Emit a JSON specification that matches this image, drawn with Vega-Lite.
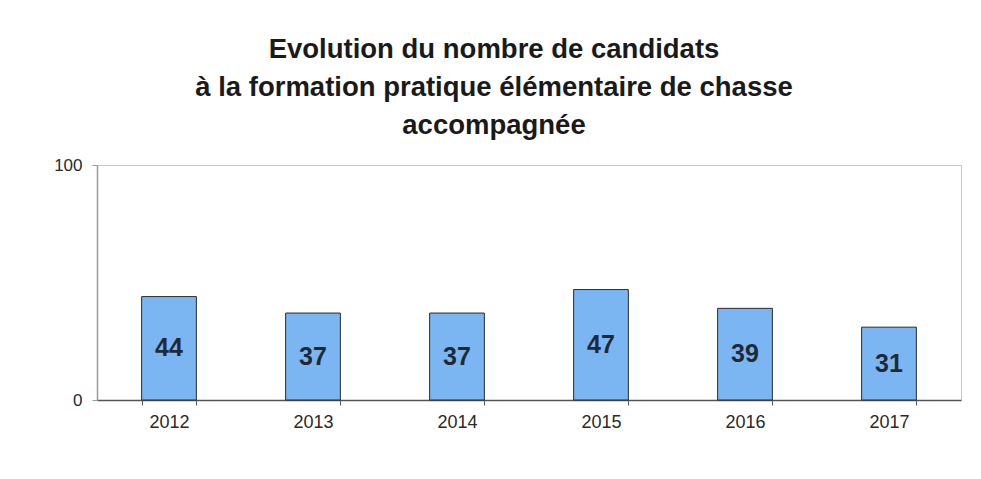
{
  "$schema": "https://vega.github.io/schema/vega-lite/v6.json",
  "autosize": "none",
  "width": 864,
  "height": 235,
  "padding": {"left": 97, "top": 165, "right": 20, "bottom": 79},
  "background": "white",
  "config": {
    "font": "Liberation Sans",
    "view": {"stroke": "#c8c8c8", "strokeWidth": 1}
  },
  "title": {
    "text": ["Evolution du nombre de candidats", "à la formation pratique élémentaire de chasse", "accompagnée"],
    "font": "Liberation Sans",
    "fontSize": 27.5,
    "fontWeight": "bold",
    "color": "#1a1a1a",
    "lineHeight": 38,
    "anchor": "middle",
    "dx": -35,
    "offset": 17
  },
  "data": {
    "values": [
      {"year": "2012", "count": 44},
      {"year": "2013", "count": 37},
      {"year": "2014", "count": 37},
      {"year": "2015", "count": 47},
      {"year": "2016", "count": 39},
      {"year": "2017", "count": 31}
    ]
  },
  "encoding": {
    "x": {
      "field": "year",
      "type": "nominal",
      "scale": {"paddingInner": 0.62, "paddingOuter": 0.31},
      "axis": {
        "title": null,
        "labelAngle": 0,
        "labelFont": "Liberation Sans",
        "labelFontSize": 18,
        "labelColor": "#2a2a2a",
        "labelPadding": 8,
        "domainColor": "#555555",
        "domainWidth": 1.5,
        "tickBand": "extent",
        "tickColor": "#555555",
        "tickSize": 5
      }
    }
  },
  "layer": [
    {
      "mark": {"type": "bar", "fill": "#7cb6f2", "stroke": "#2a2a2a", "strokeWidth": 1},
      "encoding": {
        "y": {
          "field": "count",
          "type": "quantitative",
          "scale": {"domain": [0, 100]},
          "axis": {
            "title": null,
            "values": [0, 100],
            "grid": true,
            "gridColor": "#c8c8c8",
            "labelFont": "Liberation Sans",
            "labelFontSize": 17,
            "labelColor": "#2a2a2a",
            "labelPadding": 10,
            "domainColor": "#9a9a9a",
            "domainWidth": 1.5,
            "tickColor": "#9a9a9a",
            "tickSize": 5
          }
        }
      }
    },
    {
      "mark": {"type": "text", "fontSize": 25, "fontWeight": "bold", "color": "#1f2a38", "baseline": "middle", "font": "Liberation Sans"},
      "encoding": {
        "y": {"field": "count", "type": "quantitative", "scale": {"domain": [0, 200]}, "axis": null},
        "text": {"field": "count", "type": "quantitative"}
      }
    }
  ],
  "resolve": {"scale": {"y": "independent"}}
}
